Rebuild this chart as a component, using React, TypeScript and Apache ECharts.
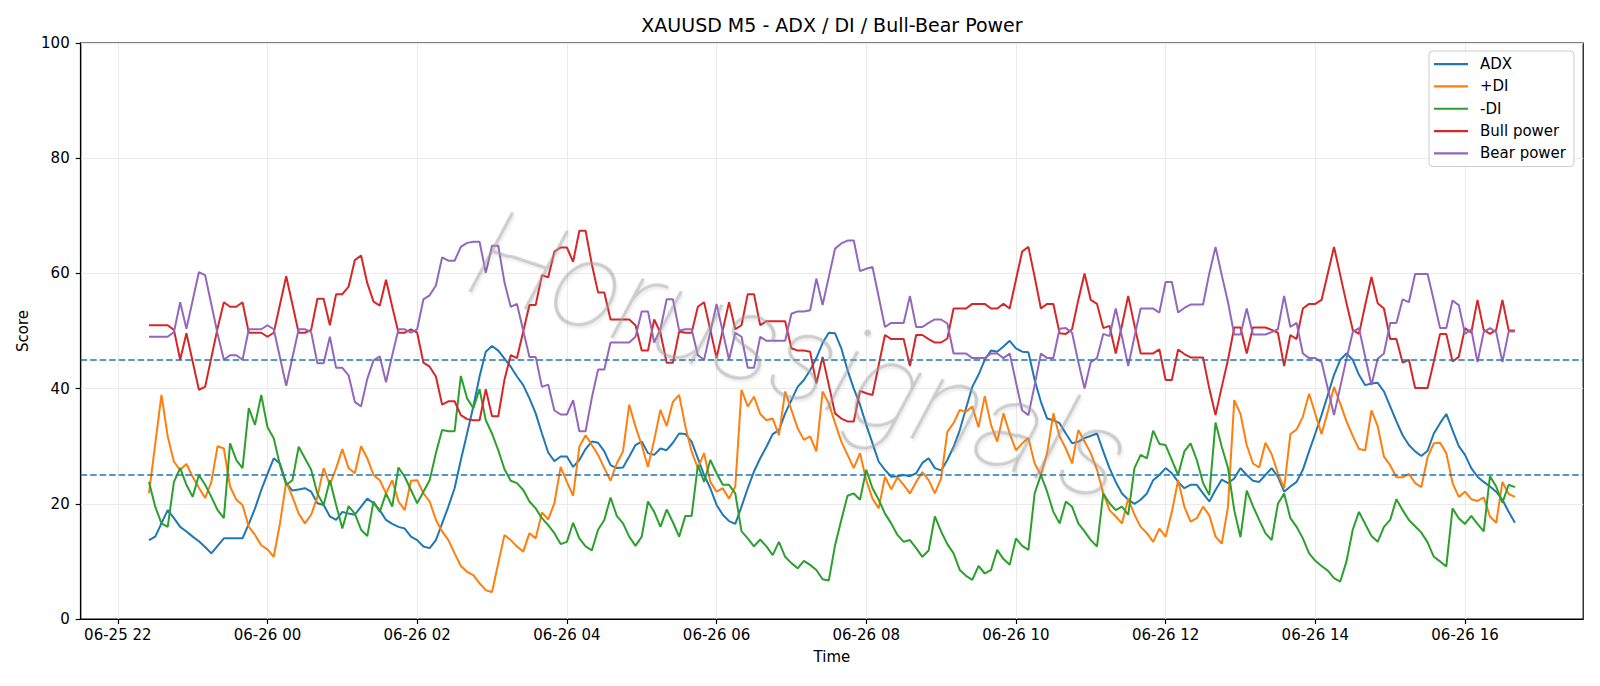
import React, { useEffect, useRef } from 'react';
import * as echarts from 'echarts';

// Bars are 5 minutes apart; x values are minutes after 06-25 22:00.
const firstBarMinute = 25;
const barMinutes = 5;

const tickMinutes = [0, 120, 240, 360, 480, 600, 720, 840, 960, 1080];
const tickLabels = [
  '06-25 22', '06-26 00', '06-26 02', '06-26 04', '06-26 06',
  '06-26 08', '06-26 10', '06-26 12', '06-26 14', '06-26 16',
];

const thresholdLevels = [45, 25];

const adx = [
  13.7, 14.3, 16.6, 18.9, 17.5, 16.0, 15.2, 14.3, 13.5, 12.5,
  11.4, 12.7, 14.0, 14.0, 14.0, 14.0, 16.5, 19.2, 22.4, 25.2,
  27.9, 27.0, 23.6, 22.3, 22.5, 22.7, 22.1, 20.1, 19.8, 17.8,
  17.2, 18.6, 18.3, 18.1, 19.5, 20.9, 20.1, 18.9, 17.2, 16.5,
  16.0, 15.7, 14.3, 13.7, 12.6, 12.3, 13.7, 16.6, 19.5, 22.7,
  27.6, 32.2, 36.9, 42.1, 46.4, 47.4, 46.6, 45.2, 43.8, 42.1,
  40.6, 38.3, 35.7, 32.2, 28.9, 27.4, 28.2, 28.2, 26.4, 27.6,
  29.5, 30.8, 30.6, 29.1, 26.7, 26.2, 26.3, 28.2, 30.2, 30.8,
  28.8, 28.5, 29.6, 29.3, 30.6, 32.2, 32.1, 30.8, 27.9, 25.0,
  22.7, 19.8, 18.1, 17.0, 16.5, 19.5, 22.7, 25.6, 27.9, 29.9,
  32.1, 32.8, 35.7, 38.0, 40.3, 41.5, 43.2, 45.3, 47.9, 49.7,
  49.6, 47.0, 43.2, 40.0, 37.2, 33.7, 30.5, 27.3, 25.9, 24.7,
  24.8, 25.0, 24.8, 25.3, 27.1, 27.9, 26.2, 25.8, 27.6, 29.9,
  32.8, 36.6, 40.3, 42.4, 45.0, 46.6, 46.4, 47.3, 48.3, 47.0,
  46.4, 46.3, 41.5, 37.7, 34.8, 34.5, 34.0, 32.2, 30.5, 30.8,
  31.4, 31.8, 32.2, 29.1, 26.2, 23.8, 21.8, 20.7, 20.0, 20.7,
  21.8, 24.1, 25.0, 26.2, 25.3, 23.8, 22.7, 23.3, 23.3, 21.8,
  20.4, 22.4, 24.2, 23.6, 24.4, 26.2, 25.0, 24.0, 23.8, 25.0,
  26.2, 24.7, 22.1, 23.0, 23.8, 25.9, 29.1, 32.2, 35.4, 38.9,
  42.4, 45.0, 46.1, 45.0, 42.4, 40.6, 40.9, 41.0, 39.5, 36.9,
  34.3, 31.9, 30.2, 29.1, 28.3, 29.2, 32.2, 34.0, 35.6, 32.8,
  30.0, 28.5, 26.2, 24.7, 23.8, 23.0, 22.1, 20.7, 18.6, 16.7,
];

const plusDI = [
  21.8, 30.4, 38.9, 31.7, 27.3, 25.9, 26.9, 24.7, 22.8, 21.0,
  23.8, 30.0, 29.6, 23.0, 20.7, 19.8, 16.0, 14.6, 12.8, 12.1,
  10.8, 16.6, 23.8, 21.2, 18.3, 16.6, 18.1, 21.2, 26.2, 23.3,
  26.2, 29.5, 26.2, 25.3, 30.0, 27.9, 25.0, 24.1, 21.8, 24.1,
  20.4, 18.9, 24.0, 24.1, 21.8, 20.4, 17.2, 15.2, 13.7, 11.4,
  9.2, 8.2, 7.6, 6.2, 5.0, 4.7, 9.7, 14.6, 13.7, 12.6,
  11.7, 14.9, 14.0, 18.5, 17.3, 20.1, 26.4, 23.8, 21.4, 29.9,
  31.9, 30.2, 28.5, 26.2, 24.0, 27.0, 29.1, 37.2, 33.4, 30.2,
  26.4, 31.1, 36.3, 33.5, 37.7, 38.9, 33.4, 29.1, 26.2, 28.8,
  23.8, 22.1, 22.7, 20.9, 23.0, 39.8, 36.9, 38.6, 35.6, 34.5,
  34.8, 31.9, 39.5, 36.3, 33.1, 31.1, 31.7, 29.1, 39.5, 37.4,
  34.0, 30.8, 28.5, 26.2, 28.8, 24.1, 20.9, 19.2, 24.7, 22.5,
  24.6, 23.3, 21.8, 23.8, 25.5, 24.1, 21.8, 24.4, 32.5, 34.0,
  36.3, 36.0, 36.9, 33.3, 38.7, 33.7, 30.8, 35.7, 32.2, 29.3,
  30.5, 31.4, 27.0, 25.0, 28.8, 35.7, 31.7, 29.6, 27.0, 32.8,
  30.8, 28.8, 25.9, 21.8, 18.9, 17.8, 16.6, 20.9, 18.1, 16.0,
  14.9, 13.4, 15.7, 14.3, 18.6, 24.1, 19.5, 16.9, 17.5, 19.5,
  18.0, 14.3, 13.1, 19.5, 38.0, 35.6, 30.2, 27.0, 26.3, 30.6,
  28.6, 25.3, 22.7, 32.1, 32.9, 35.1, 39.1, 35.6, 32.1, 36.0,
  40.3, 37.4, 34.3, 31.8, 29.5, 29.3, 36.2, 33.5, 28.2, 26.7,
  24.6, 24.6, 25.2, 23.6, 22.9, 28.1, 30.5, 30.6, 28.8, 23.6,
  21.2, 22.1, 20.8, 20.5, 21.1, 17.8, 16.7, 23.8, 21.7, 21.2,
];

const minusDI = [
  23.8, 19.5, 16.6, 16.0, 23.8, 26.2, 23.3, 21.2, 25.0, 23.3,
  21.2, 18.9, 17.5, 30.5, 27.6, 26.2, 36.6, 33.7, 38.9, 33.3,
  31.4, 26.7, 23.3, 24.1, 29.9, 27.9, 25.9, 21.8, 19.8, 24.1,
  19.8, 15.7, 19.6, 18.3, 15.5, 14.4, 20.4, 18.6, 21.8, 19.5,
  26.3, 24.7, 22.4, 20.1, 22.1, 24.1, 28.8, 32.8, 32.6, 32.6,
  42.2, 38.3, 36.6, 39.9, 34.5, 32.2, 29.3, 26.0, 24.0, 23.6,
  22.4, 20.4, 19.2, 17.5, 16.3, 14.9, 13.0, 13.4, 16.7, 14.0,
  12.6, 11.9, 15.5, 17.2, 21.1, 17.9, 16.6, 14.3, 12.7, 14.3,
  20.4, 18.6, 16.0, 19.0, 16.8, 14.3, 17.9, 17.9, 26.7, 23.8,
  27.6, 25.3, 23.3, 23.3, 21.8, 15.2, 14.0, 12.6, 13.8, 12.6,
  11.1, 13.4, 10.8, 9.7, 8.8, 10.1, 9.4, 8.5, 6.9, 6.7,
  12.8, 17.2, 21.4, 21.8, 20.7, 25.9, 22.7, 20.7, 18.3, 16.6,
  14.6, 13.4, 13.7, 12.3, 10.8, 11.9, 17.8, 15.2, 13.0, 11.4,
  8.5, 7.5, 6.8, 9.2, 7.9, 8.5, 12.0, 10.4, 9.4, 14.0,
  12.7, 12.0, 21.8, 25.0, 22.1, 18.6, 16.6, 20.4, 19.5, 16.6,
  15.2, 13.7, 12.6, 21.8, 20.1, 18.9, 19.5, 18.1, 26.2, 28.5,
  27.9, 32.7, 30.4, 30.2, 27.6, 25.0, 29.1, 30.5, 27.6, 23.6,
  21.5, 34.1, 29.9, 26.2, 18.9, 14.2, 22.3, 19.6, 17.2, 14.9,
  13.7, 20.0, 21.8, 17.5, 16.0, 14.0, 11.4, 10.1, 9.2, 8.4,
  7.1, 6.5, 10.0, 15.5, 18.6, 16.5, 14.4, 13.4, 16.0, 17.2,
  20.8, 18.9, 17.2, 16.1, 15.0, 13.3, 10.8, 10.0, 9.1, 19.2,
  17.5, 16.5, 17.9, 16.5, 15.2, 24.8, 23.0, 20.2, 23.3, 22.9,
];

const bullPower = [
  51.0, 51.0, 51.0, 51.0, 50.2, 45.0, 49.6, 44.7, 39.8, 40.3,
  45.4, 50.5, 55.0, 54.2, 54.2, 55.0, 49.7, 49.7, 49.7, 49.0,
  49.7, 54.6, 59.5, 54.6, 49.7, 49.7, 50.2, 55.6, 55.6, 51.0,
  56.4, 56.4, 57.7, 62.3, 63.1, 58.3, 55.1, 54.4, 58.9, 54.2,
  49.7, 49.7, 50.3, 49.7, 44.5, 43.8, 42.1, 37.2, 37.8, 37.8,
  35.4, 34.7, 34.5, 34.5, 39.9, 35.2, 35.2, 41.6, 45.8, 45.3,
  49.9, 54.5, 54.5, 59.7, 59.3, 63.8, 64.5, 64.5, 62.0, 67.4,
  67.4, 61.6, 56.7, 56.7, 52.0, 52.0, 52.0, 52.0, 51.0, 46.6,
  46.6, 52.0, 49.7, 44.5, 44.5, 49.9, 49.7, 49.7, 54.2, 55.0,
  50.2, 45.3, 50.2, 55.0, 50.3, 51.0, 56.4, 56.4, 51.0, 51.7,
  51.7, 51.7, 51.7, 47.0, 46.6, 46.6, 46.4, 40.9, 45.5, 40.6,
  35.7, 34.8, 34.3, 34.3, 39.6, 39.2, 38.9, 44.1, 49.3, 48.6,
  48.6, 48.6, 43.9, 49.3, 49.3, 48.6, 48.0, 48.0, 48.7, 53.9,
  53.9, 53.9, 54.7, 54.7, 54.7, 53.9, 53.9, 54.7, 53.9, 58.9,
  63.8, 64.6, 59.4, 53.9, 54.7, 54.7, 49.6, 49.5, 50.3, 55.4,
  60.0, 55.4, 54.7, 50.5, 50.9, 46.1, 51.0, 56.1, 51.0, 46.1,
  46.1, 46.1, 46.8, 41.5, 41.5, 46.8, 46.0, 45.4, 45.4, 45.4,
  40.0, 35.4, 40.3, 45.0, 50.6, 50.6, 46.1, 50.6, 50.6, 50.6,
  50.2, 49.7, 43.9, 49.3, 48.6, 53.9, 54.7, 54.7, 55.4, 60.0,
  64.6, 59.7, 54.8, 50.2, 49.5, 54.5, 59.4, 54.8, 53.9, 48.6,
  48.6, 44.5, 45.0, 40.1, 40.1, 40.1, 44.7, 49.5, 49.5, 44.7,
  45.5, 50.5, 49.7, 55.4, 50.2, 49.5, 50.2, 55.4, 50.1, 50.1,
];

const bearPower = [
  49.0, 49.0, 49.0, 49.0, 49.8, 55.0, 50.4, 55.3, 60.2, 59.7,
  54.6, 49.5, 45.0, 45.8, 45.8, 45.0, 50.3, 50.3, 50.3, 51.0,
  50.3, 45.4, 40.5, 45.4, 50.3, 50.3, 49.8, 44.4, 44.4, 49.0,
  43.6, 43.6, 42.3, 37.7, 36.9, 41.7, 44.9, 45.6, 41.1, 45.8,
  50.3, 50.3, 49.7, 50.3, 55.5, 56.2, 57.9, 62.8, 62.2, 62.2,
  64.6, 65.3, 65.5, 65.5, 60.1, 64.8, 64.8, 58.4, 54.2, 54.7,
  50.1, 45.5, 45.5, 40.3, 40.7, 36.2, 35.5, 35.5, 38.0, 32.6,
  32.6, 38.4, 43.3, 43.3, 48.0, 48.0, 48.0, 48.0, 49.0, 53.4,
  53.4, 48.0, 50.3, 55.5, 55.5, 50.1, 50.3, 50.3, 45.8, 45.0,
  49.8, 54.7, 49.8, 45.0, 49.7, 49.0, 43.6, 43.6, 49.0, 48.3,
  48.3, 48.3, 48.3, 53.0, 53.4, 53.4, 53.6, 59.1, 54.5, 59.4,
  64.3, 65.2, 65.7, 65.7, 60.4, 60.8, 61.1, 55.9, 50.7, 51.4,
  51.4, 51.4, 56.1, 50.7, 50.7, 51.4, 52.0, 52.0, 51.3, 46.1,
  46.1, 46.1, 45.3, 45.3, 45.3, 46.1, 46.1, 45.3, 46.1, 41.1,
  36.2, 35.4, 40.6, 46.1, 45.3, 45.3, 50.4, 50.5, 49.7, 44.6,
  40.0, 44.6, 45.3, 49.5, 49.1, 53.9, 49.0, 43.9, 49.0, 53.9,
  53.9, 53.9, 53.2, 58.5, 58.5, 53.2, 54.0, 54.6, 54.6, 54.6,
  60.0, 64.6, 59.7, 55.0, 49.4, 49.4, 53.9, 49.4, 49.4, 49.4,
  49.8, 50.3, 56.1, 50.7, 51.4, 46.1, 45.3, 45.3, 44.6, 40.0,
  35.4, 40.3, 45.2, 49.8, 50.5, 45.5, 40.6, 45.2, 46.1, 51.4,
  51.4, 55.5, 55.0, 59.9, 59.9, 59.9, 55.3, 50.5, 50.5, 55.3,
  54.5, 49.5, 50.3, 44.6, 49.8, 50.5, 49.8, 44.6, 49.9, 49.9,
];

const seriesNames = ['ADX', '+DI', '-DI', 'Bull power', 'Bear power'];
const seriesColors = ['#1f77b4', '#ff7f0e', '#2ca02c', '#d62728', '#9467bd'];
const seriesValues = [adx, plusDI, minusDI, bullPower, bearPower];

const FONT = 'DejaVu Sans';

const toPoints = (values: number[]) =>
  values.map((v, i) => [firstBarMinute + i * barMinutes, v]);

const labelFor = (minute: number) => {
  const idx = tickMinutes.indexOf(Math.round(minute));
  return idx >= 0 ? tickLabels[idx] : '';
};

export default function App() {
  const ref = useRef<HTMLDivElement>(null);

  useEffect(() => {
    if (!ref.current) return;
    const chart = echarts.init(ref.current, undefined, { renderer: 'svg' });

    const gridLeft = 80.7;
    const gridRight = 16.8;
    const plotCenterX = gridLeft + (1600 - gridLeft - gridRight) / 2;

    const series: any[] = seriesValues.map((vals, k) => ({
      name: seriesNames[k],
      type: 'line',
      data: toPoints(vals),
      showSymbol: false,
      symbol: 'none',
      lineStyle: { width: 2, color: seriesColors[k] },
      itemStyle: { color: seriesColors[k] },
      emphasis: { disabled: true },
    }));

    // vertical grid lines at the time ticks, drawn beneath the curves
    series[0].markLine = {
      silent: true,
      z: 1,
      symbol: ['none', 'none'],
      label: { show: false },
      lineStyle: { color: '#ebebeb', width: 1, type: 'solid' },
      emphasis: { disabled: true },
      data: tickMinutes.map((m) => ({ xAxis: m })),
    };

    // dashed ADX threshold levels
    series[4].markLine = {
      silent: true,
      symbol: ['none', 'none'],
      label: { show: false },
      lineStyle: { color: '#1f77b4', width: 1.6, type: [6.5, 3] },
      emphasis: { disabled: true },
      data: thresholdLevels.map((y) => ({ yAxis: y })),
    };

    chart.setOption({
      animation: false,
      backgroundColor: '#ffffff',
      textStyle: { fontFamily: FONT },
      grid: {
        left: gridLeft,
        right: gridRight,
        top: 43,
        bottom: 67,
        show: true,
        borderColor: '#000000',
        borderWidth: 1.2,
        backgroundColor: 'transparent',
      },
      legend: {
        data: seriesNames,
        orient: 'vertical',
        right: 26,
        top: 51,
        icon: 'rect',
        itemWidth: 34,
        itemHeight: 2.2,
        itemGap: 0,
        padding: [2, 8, 2, 5],
        backgroundColor: 'rgba(255,255,255,0.8)',
        borderColor: '#cccccc',
        borderWidth: 1,
        borderRadius: 4,
        selectedMode: false,
        textStyle: {
          fontFamily: FONT,
          fontSize: 15,
          color: '#000000',
          lineHeight: 22.3,
          padding: [0, 0, 0, 7],
        },
      },
      xAxis: {
        type: 'value',
        min: -29.75,
        max: 1174.75,
        name: 'Time',
        nameLocation: 'middle',
        nameGap: 30,
        nameTextStyle: { fontFamily: FONT, fontSize: 15, color: '#000000' },
        axisLine: { show: true, onZero: false, lineStyle: { color: '#000000', width: 1.2 } },
        axisTick: {
          show: true,
          customValues: tickMinutes,
          length: 5,
          lineStyle: { color: '#000000', width: 1.2 },
        },
        axisLabel: {
          customValues: tickMinutes,
          formatter: (v: number) => labelFor(v),
          fontFamily: FONT,
          fontSize: 15,
          color: '#000000',
          margin: 8,
        },
        splitLine: { show: false },
      },
      yAxis: {
        type: 'value',
        min: 0,
        max: 100,
        interval: 20,
        name: 'Score',
        nameLocation: 'middle',
        nameGap: 45,
        nameTextStyle: { fontFamily: FONT, fontSize: 15, color: '#000000' },
        axisLine: { show: true, onZero: false, lineStyle: { color: '#000000', width: 1.2 } },
        axisTick: { show: true, length: 5, lineStyle: { color: '#000000', width: 1.2 } },
        axisLabel: { fontFamily: FONT, fontSize: 15, color: '#000000', margin: 11 },
        splitLine: { show: true, lineStyle: { color: '#ebebeb', width: 1 } },
      },
      graphic: [
        {
          type: 'text',
          x: plotCenterX,
          y: 25,
          silent: true,
          style: {
            text: 'XAUUSD M5 - ADX / DI / Bull-Bear Power',
            fontFamily: FONT,
            fontSize: 19,
            fill: '#000000',
            align: 'center',
            verticalAlign: 'middle',
          },
        },
        {
          type: 'text',
          x: 800,
          y: 356,
          rotation: -0.32,
          silent: true,
          z: 100,
          style: {
            text: 'Horussignals',
            fontFamily: 'Roboto',
            fontStyle: 'italic',
            fontWeight: 100,
            fontSize: 124,
            fill: 'rgba(160,160,160,0.5)',
            textShadowColor: 'rgba(0,0,0,0.15)',
            textShadowBlur: 2,
            textShadowOffsetX: 2,
            textShadowOffsetY: 2,
            align: 'center',
            verticalAlign: 'middle',
          },
        },
      ],
      series,
    });

    return () => chart.dispose();
  }, []);

  return (
    <div
      ref={ref}
      style={{ position: 'fixed', left: 0, top: 0, width: 1600, height: 686 }}
    />
  );
}
